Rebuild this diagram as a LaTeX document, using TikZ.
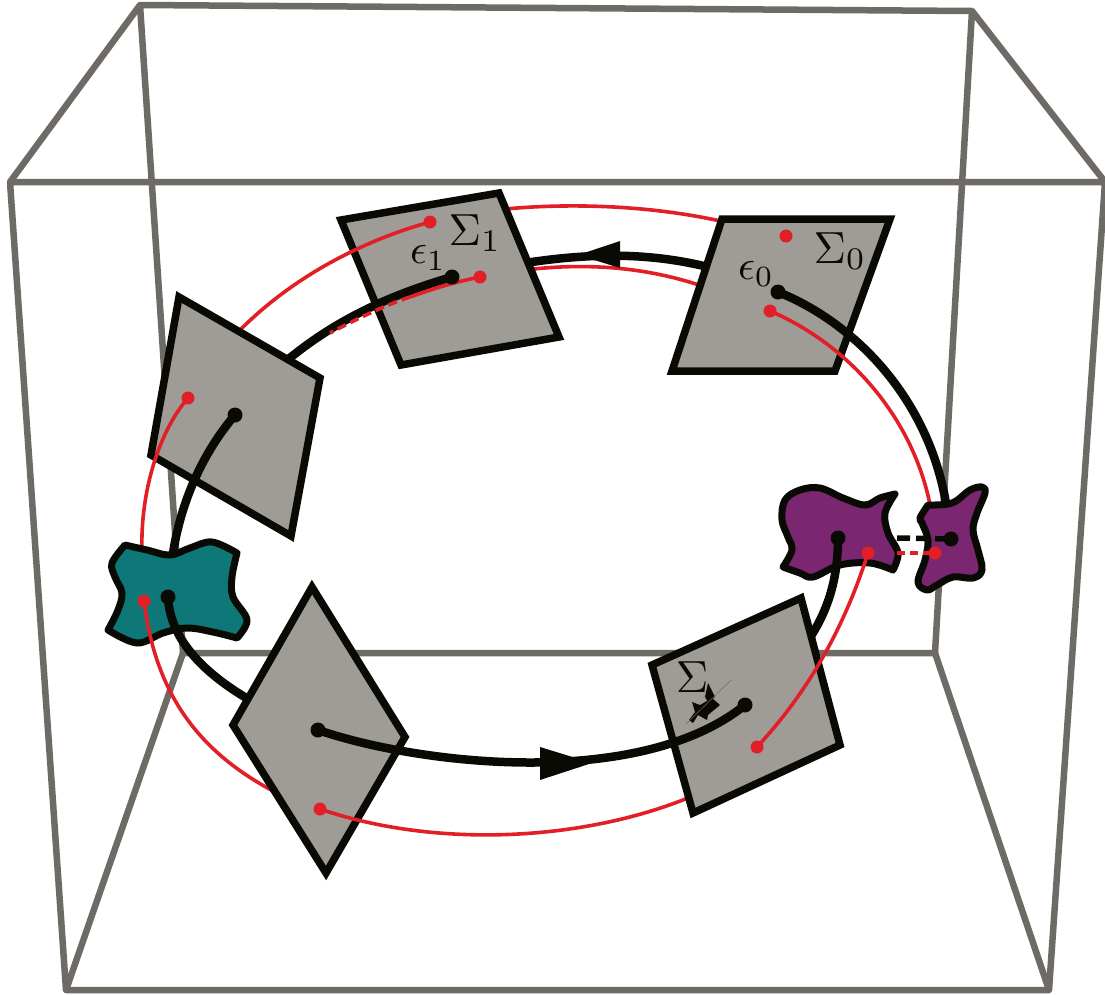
\documentclass[tikz,border=0pt]{standalone}
\usetikzlibrary{arrows.meta}

\definecolor{boxgray}{RGB}{110,106,102}
\definecolor{sheetgray}{RGB}{159,155,151}
\definecolor{lobepurple}{RGB}{122,38,112}
\definecolor{lobeteal}{RGB}{13,120,119}
\definecolor{orbitred}{RGB}{226,31,38}
\definecolor{orbitblack}{RGB}{10,10,5}

\begin{document}
\begin{tikzpicture}[
    x=1pt,
    y=-1pt,
    boxline/.style={draw=boxgray, line width=6.5pt, line join=round},
    sheet/.style={draw=orbitblack, fill=sheetgray, line width=7.5pt, line join=miter},
    lobe/.style={draw=orbitblack, line width=7pt, line join=round},
    blackpath/.style={draw=orbitblack, line width=8.5pt},
    redpath/.style={draw=orbitred, line width=3.6pt},
    blackdot/.style={circle, fill=orbitblack, inner sep=0pt, minimum size=15pt},
    reddot/.style={circle, fill=orbitred, inner sep=0pt, minimum size=13pt},
    biglabel/.style={text=orbitblack, inner sep=0pt, scale=4.5},
    smalllabel/.style={text=orbitblack, inner sep=0pt, scale=4.2},
    shard/.style={fill=orbitblack, draw=none}
]

\useasboundingbox (0,0) rectangle (1105,994);

% box
\draw[boxline] (140,5) -- (972,11) -- (935,653) -- (183,653) -- cycle;
\draw[boxline] (10,182) -- (1105,182) -- (1049,990) -- (66,990) -- cycle;
\draw[boxline] (140,5) -- (10,182);
\draw[boxline] (972,11) -- (1105,182);
\draw[boxline] (935,653) -- (1049,990);
\draw[boxline] (183,653) -- (66,990);

% points on the sheets
\coordinate (bzero) at (778,292);
\coordinate (rzero) at (770,311);
\coordinate (rzerotop) at (786,236);
\coordinate (bone) at (452,277);
\coordinate (rone) at (480,277);
\coordinate (ronetop) at (430,222);
\coordinate (btwo) at (235,415);
\coordinate (rtwo) at (188,398);
\coordinate (bteal) at (168,597);
\coordinate (rteal) at (144,601);
\coordinate (bthree) at (318,730);
\coordinate (rthree) at (320,809);
\coordinate (bfour) at (745,705);
\coordinate (rfour) at (757,747);
\coordinate (bleft) at (838,538);
\coordinate (rleft) at (868,553);
\coordinate (bright) at (951,539);
\coordinate (rright) at (935,553);

% between the first two sheets
\draw[blackpath] (712,268) .. controls (650,252) and (590,253) .. (525,263);
\draw[redpath] (725,222) .. controls (650,205) and (570,203) .. (505,209);
\draw[redpath] (705,287) .. controls (650,268) and (590,262) .. (525,270);

\draw[sheet] (722,219) -- (890,219) -- (835,371) -- (672,371) -- cycle;
\draw[sheet] (341,220) -- (499,193) -- (559,337) -- (401,365) -- cycle;

\draw[blackpath] (bzero) .. controls (860,325) and (932,405) .. (947,510);
\draw[redpath] (rzero) .. controls (850,345) and (915,420) .. (931,510);
\draw[redpath] (ronetop) .. controls (365,240) and (295,275) .. (240,330);
\draw[blackpath] (bone) .. controls (390,295) and (335,320) .. (285,362);
\draw[orbitred, line width=3.6pt] (rone) .. controls (450,283) and (430,290) .. (410,297);
\draw[orbitred, line width=3.6pt, dash pattern=on 9pt off 5pt] (410,297) .. controls (385,305) and (355,320) .. (330,333);

\draw[sheet] (179,297) -- (320,378) -- (291,536) -- (151,455) -- cycle;

\draw[blackpath] (btwo) .. controls (205,450) and (180,500) .. (172,560);
\draw[redpath] (rtwo) .. controls (160,430) and (140,490) .. (142,552);

% lobes
\draw[lobe, fill=lobeteal] plot[smooth, tension=0.6] coordinates {(125,545) (147,550) (170,555) (190,548) (212,542) (237,553)}
    -- plot[smooth, tension=0.6] coordinates {(237,553) (232,577) (233,597) (247,620) (237,638)}
    -- plot[smooth, tension=0.6] coordinates {(237,638) (213,632) (187,628) (163,633) (137,643) (108,630)}
    -- plot[smooth, tension=0.6] coordinates {(108,630) (118,610) (122,593) (115,577) (112,563) (125,545)} -- cycle;
\draw[lobe, fill=lobepurple] plot[smooth, tension=0.6] coordinates {(783,567) (792,550) (788,537) (782,520) (785,500) (800,490) (820,488) (843,498) (865,505) (880,498) (895,494)}
    -- plot[smooth, tension=0.6] coordinates {(895,494) (885,513) (888,533) (898,553) (893,570)}
    -- plot[smooth, tension=0.6] coordinates {(893,570) (870,563) (840,565) (813,577) (800,573) (783,567)} -- cycle;
\draw[lobe, fill=lobepurple] plot[smooth, tension=0.6] coordinates {(928,505) (952,503) (970,490) (982,487) (985,493) (977,513) (973,530) (978,550) (982,570) (973,578) (953,577) (937,585) (927,590) (918,582) (925,560) (928,540) (922,523) (920,518) (928,505)} -- cycle;

\draw[blackpath] (bteal) .. controls (170,640) and (205,675) .. (255,703);
\draw[redpath] (rteal) .. controls (155,690) and (195,750) .. (275,792);
\draw[blackpath] (bleft) .. controls (838,575) and (830,610) .. (805,645);

% lower sheets
\draw[sheet] (312,587) -- (405,737) -- (326,873) -- (233,725) -- cycle;
\draw[redpath] (rthree) .. controls (440,850) and (590,840) .. (695,795);
\draw[sheet] (652,665) -- (801,598) -- (840,745) -- (693,813) -- cycle;

\draw[redpath] (rfour) .. controls (810,690) and (845,625) .. (rleft);
\draw[orbitblack, line width=5.5pt, dash pattern=on 13pt off 6pt] (897,538) -- (bright);
\draw[orbitred, line width=4pt, dash pattern=on 8pt off 5pt] (897,553) -- (rright);
\draw[blackpath] (bthree) .. controls (420,765) and (640,790) .. (bfour);

% arrowheads
\fill[orbitblack] (578,255) -- (620,241) -- (620,268) -- cycle;
\fill[orbitblack] (592,763) -- (540,747) -- (540,780) -- cycle;

% dots
\foreach \dotname in {bzero,bone,btwo,bteal,bthree,bfour,bleft,bright}
    \node[blackdot] at (\dotname) {};
\foreach \dotname in {rzero,rzerotop,rone,ronetop,rtwo,rteal,rthree,rfour,rleft,rright}
    \node[reddot] at (\dotname) {};

% labels
\node[biglabel] (sigmazero) at (840,251) {$\Sigma_0$};
\node[smalllabel] (epszero) at (756,274) {$\epsilon_0$};
\node[biglabel] (sigmaone) at (475,233) {$\Sigma_1$};
\node[smalllabel] (epsone) at (428,258) {$\epsilon_1$};
\node[biglabel, anchor=north west] (sigmafour) at (675,661) {$\Sigma$};

% broken subscript on the last sheet
\fill[shard] (708,683) -- (715,697) -- (708,702) -- (705,697) -- cycle;
\fill[shard] (692,702) -- (700,705) -- (712,698) -- (720,705) -- (708,715) -- (707,720) -- (698,715) -- (693,723) -- (689,720) -- (695,712) -- cycle;
\draw[boxgray, line width=0.5pt] (686,724) -- (731,680);

\end{tikzpicture}
\end{document}
